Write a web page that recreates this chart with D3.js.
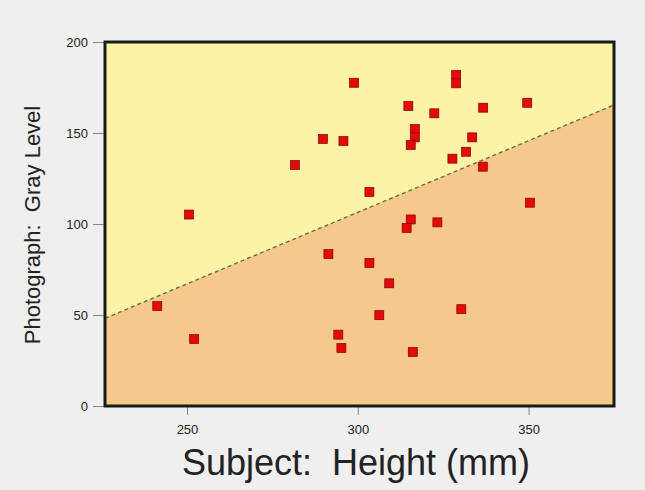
<!DOCTYPE html>
<html>
<head>
<meta charset="utf-8">
<script src="https://cdn.jsdelivr.net/npm/d3@7"></script>
<style>
  body { margin: 0; background: #efefef; }
  text { font-family: "Liberation Sans", Arial, sans-serif; fill: #222; }
  .label { white-space: pre; }
</style>
</head>
<body>
<div id="chart-area"></div>
<script>
// subject height (mm) and photograph gray level, one entry per subject
var heightMm = [241.3, 250.6, 252.1, 281.6, 289.8, 295.8, 291.4, 298.9, 303.4, 303.4,
                294.3, 295.2, 306.3, 309.2, 314.8, 316.7, 316.7, 315.5, 315.5, 314.3,
                316.1, 322.4, 323.3, 327.7, 328.8, 328.8, 330.3, 331.7, 333.5, 336.7,
                336.6, 349.6, 350.4];
var grayLevel = [54.9, 105.2, 36.8, 132.4, 146.7, 145.6, 83.5, 177.6, 117.6, 78.6,
                 39.2, 31.9, 49.9, 67.4, 164.8, 152.2, 147.6, 143.4, 102.5, 97.8,
                 29.7, 160.8, 100.9, 135.9, 181.9, 177.3, 53.2, 139.7, 147.6, 163.9,
                 131.5, 166.6, 111.7];

// dividing line, end points
var fitX = [226, 375];
var fitY = [48.2, 165.4];

var xTicks = [250, 300, 350];
var yTicks = [0, 50, 100, 150, 200];

var margin = {left: 105, right: 31, top: 42, bottom: 84};
var width = 645 - margin.left - margin.right,
    height = 490 - margin.top - margin.bottom;

var svg = d3.select("#chart-area")
    .append("svg")
    .attr("width", 645)
    .attr("height", 490);

var g = svg.append("g")
    .attr("transform", "translate(" + margin.left + ", " + margin.top + ")");

var x = d3.scaleLinear()
    .domain([226, 375])
    .range([0, width]);

var y = d3.scaleLinear()
    .domain([0, 200])
    .range([height, 0]);

// upper region
g.append("rect")
    .attr("width", width)
    .attr("height", height)
    .attr("fill", "#fcf3a6");

// lower region under the line
var fitData = fitX.map(function (d, i) { return {x: d, y: fitY[i]}; });
var area = d3.area()
    .x(function (d) { return x(d.x); })
    .y0(height)
    .y1(function (d) { return y(d.y); });

g.append("path")
    .datum(fitData)
    .attr("d", area)
    .attr("fill", "#f5c98c");

g.append("path")
    .datum(fitData)
    .attr("d", d3.line()
        .x(function (d) { return x(d.x); })
        .y(function (d) { return y(d.y); }))
    .attr("fill", "none")
    .attr("stroke", "#6e6a4c")
    .attr("stroke-width", 1.4)
    .attr("stroke-dasharray", "4,3");

// x axis
var xAxis = g.append("g")
    .attr("transform", "translate(0," + height + ")")
    .call(d3.axisBottom(x).tickValues(xTicks).tickSize(9).tickPadding(10));
xAxis.select(".domain").remove();
xAxis.selectAll("line").attr("stroke", "#888");
xAxis.selectAll("text")
    .style("font-size", "13px")
    .style("font-family", "Liberation Sans, Arial, sans-serif")
    .attr("fill", "#333");

// y axis
var yAxis = g.append("g")
    .call(d3.axisLeft(y).tickValues(yTicks).tickSize(12).tickPadding(5));
yAxis.select(".domain").remove();
yAxis.selectAll("line").attr("stroke", "#888");
yAxis.selectAll("text")
    .style("font-size", "13px")
    .style("font-family", "Liberation Sans, Arial, sans-serif")
    .attr("fill", "#333");

// points
g.selectAll(".pt")
    .data(heightMm)
    .enter()
    .append("rect")
    .attr("class", "pt")
    .attr("x", function (d) { return x(d) - 4.5; })
    .attr("y", function (d, i) { return y(grayLevel[i]) - 4.5; })
    .attr("width", 9)
    .attr("height", 9)
    .attr("fill", "#e20a0a")
    .attr("stroke", "#8a0000")
    .attr("stroke-width", 0.7);

// frame
g.append("rect")
    .attr("width", width)
    .attr("height", height)
    .attr("fill", "none")
    .attr("stroke", "#1a1a1a")
    .attr("stroke-width", 3);

// x axis label
svg.append("text")
    .attr("class", "label")
    .attr("x", 356)
    .attr("y", 475)
    .attr("text-anchor", "middle")
    .style("font-size", "36px")
    .text("Subject:  Height (mm)");

// y axis label
svg.append("text")
    .attr("class", "label")
    .attr("transform", "rotate(-90)")
    .attr("x", -225)
    .attr("y", 40)
    .attr("text-anchor", "middle")
    .style("font-size", "22px")
    .text("Photograph:  Gray Level");
</script>
</body>
</html>
